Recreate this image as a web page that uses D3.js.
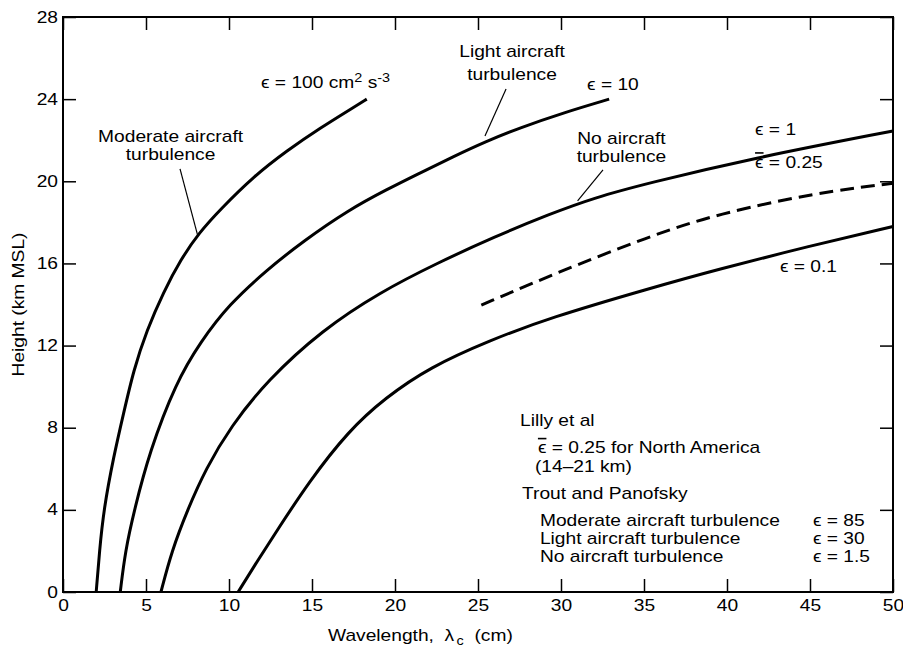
<!DOCTYPE html>
<html>
<head>
<meta charset="utf-8">
<script src="https://cdn.jsdelivr.net/npm/d3@7"></script>
<style>
  html, body { margin: 0; padding: 0; background: #fff; }
  svg text { font-family: "Liberation Sans", Arial, "DejaVu Sans", sans-serif; font-size: 16px; fill: #000; white-space: pre; }
</style>
</head>
<body>
<div id="chart"></div>
<script>
// Curves: wavelength (cm) against height (km MSL)
const eps100Wave   = [2.0, 2.2, 2.45, 3.05, 3.65, 4.25, 5.05, 6.05, 7.1, 8.2, 9.5, 11.5, 13.5, 15.5, 17.5, 18.3];
const eps100Height = [0, 2, 4, 6.6, 8.7, 10.8, 12.75, 14.6, 16.2, 17.5, 18.65, 20.25, 21.5, 22.6, 23.6, 24.0];

const eps10Wave   = [3.45, 3.75, 4.3, 5.2, 6.8, 8.3, 10.0, 12.3, 14.5, 17.2, 19.5, 21.5, 23.5, 25.5, 27.5, 30.2, 32.9];
const eps10Height = [0, 2, 4, 6.8, 10.2, 12.2, 14.0, 15.7, 17.1, 18.6, 19.6, 20.4, 21.2, 21.95, 22.6, 23.35, 24.0];

const eps1Wave   = [5.9, 6.55, 7.5, 8.6, 10.1, 12.3, 15.6, 19.1, 22.5, 26.0, 29.3, 32.0, 35.2, 41.4, 50];
const eps1Height = [0, 2, 4, 6, 8.05, 10.3, 12.75, 14.6, 16.0, 17.3, 18.4, 19.2, 19.9, 21.1, 22.45];

const eps01Wave   = [10.55, 11.7, 12.9, 14.8, 17.2, 19.4, 22.1, 25.7, 29.3, 35.4, 39.4, 45, 50];
const eps01Height = [0, 1.5, 3.0, 5.35, 7.85, 9.45, 10.95, 12.25, 13.35, 14.8, 15.7, 16.85, 17.8];

// Lilly et al mean dissipation, North America (dashed)
const lillyWave   = [25.2, 29.3, 35.4, 39.4, 45.4, 50];
const lillyHeight = [13.97, 15.4, 17.35, 18.4, 19.45, 19.9];

const xTicks = [0, 5, 10, 15, 20, 25, 30, 35, 40, 45, 50];
const yTicks = [0, 4, 8, 12, 16, 20, 24, 28];

const EPS = "\u03F5";

var width = 903, height = 649;
var margin = { top: 17, right: 10, bottom: 57, left: 63 };

var svg = d3.select("#chart").append("svg")
    .attr("width", width)
    .attr("height", height);

var x = d3.scaleLinear().domain([0, 50]).range([margin.left, width - margin.right]);
var y = d3.scaleLinear().domain([0, 28]).range([height - margin.bottom, margin.top]);

// the lettering in the original is set wide, so stretch it a bit
const SX = 1.2;

function label(g, px, py, str, anchor) {
    return g.append("text")
        .attr("transform", "translate(" + px + "," + py + ") scale(" + SX + ",1)")
        .attr("text-anchor", anchor || "start")
        .text(str);
}

function epsLabel(g, px, py, rest, bar) {
    var t = g.append("text")
        .attr("transform", "translate(" + px + "," + py + ") scale(" + SX + ",1)");
    t.append("tspan")
        .style("text-decoration", bar ? "overline" : null)
        .text(EPS);
    t.append("tspan").text(rest);
    return t;
}

// Axes, ticks pointing inward on all four sides
var tickLen = 13;

var gx = svg.append("g")
    .attr("transform", "translate(0," + y(0) + ")")
    .call(d3.axisBottom(x).tickValues(xTicks).tickSize(-tickLen).tickSizeOuter(0).tickPadding(8));
gx.selectAll("text").attr("transform", "scale(" + SX + ",1)");

var gy = svg.append("g")
    .attr("transform", "translate(" + x(0) + ",0)")
    .call(d3.axisLeft(y).tickValues(yTicks).tickSize(-tickLen).tickSizeOuter(0).tickPadding(0));
gy.selectAll("text").attr("x", 0).attr("transform", "translate(-5,0) scale(" + SX + ",1)");

svg.append("g")
    .attr("transform", "translate(0," + y(28) + ")")
    .call(d3.axisTop(x).tickValues(xTicks).tickSize(-tickLen).tickSizeOuter(0).tickFormat(""));

svg.append("g")
    .attr("transform", "translate(" + x(50) + ",0)")
    .call(d3.axisRight(y).tickValues(yTicks).tickSize(-tickLen).tickSizeOuter(0).tickFormat(""));

svg.selectAll(".domain").remove();
svg.selectAll(".tick line").attr("stroke", "#000").attr("stroke-width", 1.5);

svg.append("rect")
    .attr("x", x(0))
    .attr("y", y(28))
    .attr("width", x(50) - x(0))
    .attr("height", y(0) - y(28))
    .attr("fill", "none")
    .attr("stroke", "#000")
    .attr("stroke-width", 2);

// Curves (basis spline smooths out the reading error between points)
var line = d3.line()
    .x(d => x(d[0]))
    .y(d => y(d[1]))
    .curve(d3.curveBasis);

var solid = [
    d3.zip(eps100Wave, eps100Height),
    d3.zip(eps10Wave, eps10Height),
    d3.zip(eps1Wave, eps1Height),
    d3.zip(eps01Wave, eps01Height)
];

svg.selectAll(".curve")
    .data(solid)
    .enter()
    .append("path")
    .attr("class", "curve")
    .attr("d", line)
    .attr("fill", "none")
    .attr("stroke", "#000")
    .attr("stroke-width", 3);

svg.append("path")
    .datum(d3.zip(lillyWave, lillyHeight))
    .attr("d", line)
    .attr("fill", "none")
    .attr("stroke", "#000")
    .attr("stroke-width", 3)
    .attr("stroke-dasharray", "14,7");

// Leader lines from the turbulence labels to the curves
var leaders = [
    [[7.05, 20.6], [8.1, 17.4]],
    [[26.69, 24.49], [25.42, 22.2]],
    [[32.53, 20.55], [31.0, 19.05]]
];
svg.selectAll(".leader")
    .data(leaders)
    .enter()
    .append("line")
    .attr("class", "leader")
    .attr("x1", d => x(d[0][0]))
    .attr("y1", d => y(d[0][1]))
    .attr("x2", d => x(d[1][0]))
    .attr("y2", d => y(d[1][1]))
    .attr("stroke", "#000")
    .attr("stroke-width", 1.2);

// Curve labels
var notes = svg.append("g");

var t100 = notes.append("text")
    .attr("transform", "translate(" + x(11.93) + "," + y(24.54) + ") scale(" + SX + ",1)");
t100.append("tspan").text(EPS + " = 100 cm");
t100.append("tspan").attr("dy", -6).style("font-size", "12px").text("2");
t100.append("tspan").attr("dy", 6).text(" s");
t100.append("tspan").attr("dy", -6).style("font-size", "12px").text("-3");

label(notes, x(6.48), y(21.91), "Moderate aircraft", "middle");
label(notes, x(6.48), y(21.04), "turbulence", "middle");
label(notes, x(27.05), y(26.03), "Light aircraft", "middle");
label(notes, x(27.05), y(24.93), "turbulence", "middle");
label(notes, x(33.64), y(21.82), "No aircraft", "middle");
label(notes, x(33.64), y(20.94), "turbulence", "middle");

epsLabel(notes, x(31.57), y(24.44), " = 10");
epsLabel(notes, x(41.69), y(22.25), " = 1");
epsLabel(notes, x(41.69), y(20.67), " = 0.25", true);
epsLabel(notes, x(43.19), y(15.58), " = 0.1");

// Source notes, lower right
label(notes, x(27.53), y(8.08), "Lilly et al");
epsLabel(notes, x(28.61), y(6.76), " = 0.25 for North America", true);
label(notes, x(28.43), y(5.84), "(14\u201321 km)");
label(notes, x(27.65), y(4.53), "Trout and Panofsky");

var troutRows = ["Moderate aircraft turbulence", "Light aircraft turbulence", "No aircraft turbulence"];
var troutEps = ["85", "30", "1.5"];
var troutH = [3.21, 2.34, 1.44];
troutRows.forEach(function(r, i) {
    label(notes, x(28.73), y(troutH[i]), r);
    epsLabel(notes, x(45.18), y(troutH[i]), " = " + troutEps[i]);
});

// Axis titles
var xt = svg.append("text")
    .attr("transform", "translate(328,641) scale(" + SX + ",1)");
xt.append("tspan").text("Wavelength,  \u03BB");
xt.append("tspan").attr("dy", 4).attr("dx", 2).style("font-size", "12px").text("c");
xt.append("tspan").attr("dy", -4).text("  (cm)");

svg.append("text")
    .attr("transform", "translate(23.5," + y(14) + ") rotate(-90) scale(" + SX + ",1)")
    .attr("text-anchor", "middle")
    .text("Height (km MSL)");
</script>
</body>
</html>
